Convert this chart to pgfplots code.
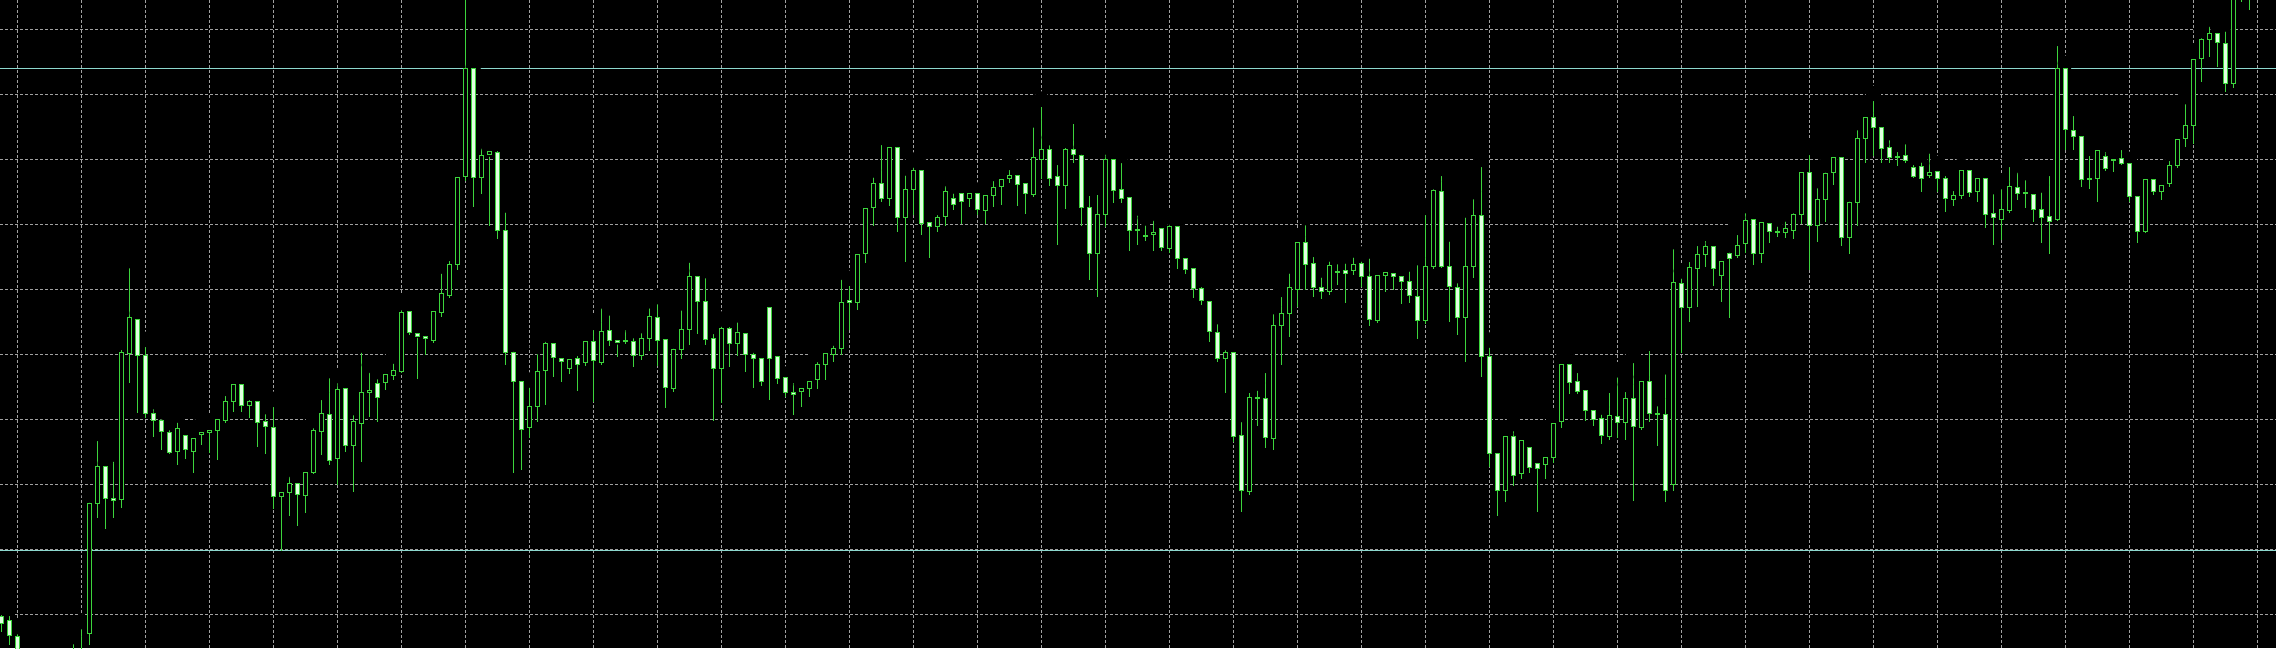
\documentclass[border=0pt]{standalone}
\usepackage{pgfplots}
\usepackage{pgfplotstable}
\pgfplotsset{compat=1.18}
\definecolor{cgreen}{RGB}{60,212,60}
\definecolor{cfill}{RGB}{225,255,225}
\definecolor{gridc}{RGB}{160,160,160}
\definecolor{hline}{RGB}{140,215,205}
\pgfdeclareplotmark{cbody}{%
  \pgfpathrectangle{\pgfpoint{-0.19mm}{-0.05mm*\bh}}{\pgfpoint{0.38mm}{0.1mm*\bh}}%
  \pgfusepathqfillstroke}
% x = bar index, o h l c = open high low close (price scale: chart units, top = 0)
\pgfplotstableread{
x o h l c
0 616.7 607.3 632 623.3
1 620.7 608.3 645 635
2 636 626.7 670 660
9 655 636.7 690 670
10 665 621.7 680 632.3
11 633.3 495 645 503.3
12 503.3 433.3 518.3 466.7
13 466.7 463.3 529 498.3
14 498.3 454 518.3 500.7
15 499.3 342.3 508.3 352.7
16 353.3 260.7 382.7 317.3
17 319.3 313.3 413.3 355.3
18 355.3 339.3 418.3 413.3
19 413.3 401.7 437.3 420
20 420.7 411.7 450 431
21 432.3 422.7 454 452
22 451.3 415 465 428.7
23 435.7 432.3 458.7 449.3
24 451 433.3 473.3 438.3
25 434.7 424.3 445 432
26 432.7 422.7 452.7 430
27 430.7 415.3 460 419
28 420.7 388.3 423.3 401
29 401.3 378.3 411.7 384
30 384.3 376.7 411.7 405
31 405.7 392.3 418.3 401.3
32 401.3 398.3 446.7 422.7
33 421.3 406.7 454 426.7
34 427.3 399.3 509.3 496.7
35 496.7 485 550.7 492.7
36 492.7 469 516 483.3
37 483.3 476.7 526 494.3
38 495 469.3 513.3 472
39 472.7 420.7 474 430
40 431.3 392.3 455 413.3
41 414 370.7 465 460
42 458.7 375.7 485 389.3
43 388.3 385.3 451.7 445.7
44 445.7 407.7 491.7 421
45 423.3 345 461.7 392.3
46 392.7 365 416.7 390
47 383.3 371.7 421.7 397.3
48 382.7 370 390 374
49 375.3 356 380 370.7
50 371.7 302.7 373.3 312.3
51 311.7 308.3 335 332.3
52 333.3 330 379 336
53 336.3 330 355 338.7
54 340 305 342.7 311.7
55 312.7 266 316.7 293.3
56 295 253.3 297.7 264.3
57 264 170 270 177.3
58 176.7 -5 180.7 68.3
59 68.3 66.7 206.7 177.3
60 177.3 141 194 155
61 154.3 149 225.7 151.7
62 152.3 143.3 239.3 230.7
63 230 205 365 352.3
64 352.3 344 473 381
65 381 374 469.8 429.8
66 427.7 380 438 406.2
67 406.2 346.5 421.5 371
68 370.7 334 405 343
69 343 341 377.3 357.4
70 358.3 353.3 382.2 361.6
71 368.6 353.3 374 359.5
72 358.7 348.3 390.5 364.9
73 362.4 336.8 366 341
74 341 322.3 401.7 360.7
75 362 300.8 364.5 331.4
76 330.6 307.9 345.9 340
77 340 336.8 357.4 342
78 341.7 322.3 344 340
79 341 330.6 367 355.4
80 355.4 325.6 360.3 338
81 338 300.8 351.2 316.1
82 317.4 296.7 365.7 340
83 339.7 335.5 408.3 387.2
84 388.4 341 391.7 349.2
85 349.2 302.9 358.7 329.8
86 329.8 255 345 276
87 276 270.7 333.9 301.7
88 301.7 270.7 345 339.7
89 338 326.4 420.7 368.6
90 368.6 319 402.9 328.5
91 328.5 319.4 367 343
92 343 314.9 356.2 332.6
93 333.9 332.6 371.9 354.5
94 354.5 345 387.6 358.3
95 358.7 355.4 386.4 381.4
96 307 305.8 400 358.7
97 356.2 349.2 384.3 378.1
98 377.3 374 396.7 392.6
99 392.6 375.2 415.3 394.6
100 391.7 384.3 407 388.4
101 388.4 374 396.7 381
102 379.3 354.5 389.3 364.5
103 364.5 347.1 380.2 353.3
104 354.1 338 361.6 348.3
105 348.3 272 355.4 302.5
106 300.4 278.2 330.3 302.9
107 302.4 250.3 310 254.2
108 253.3 201.5 263.3 208.5
109 207.3 170 225.5 183.3
110 183.3 137.4 202 198.3
111 198.3 141 205.7 147.4
112 147.4 142.4 231.6 217.2
113 217.2 168 261.5 189.3
114 189.3 160 215 170.3
115 170.3 165.5 234.5 223.2
116 222.3 218.3 257.8 226.6
117 226.6 207.5 231.6 217.2
118 216.8 178.4 225.5 191.5
119 198.3 186 210 204.4
120 193.4 190 224.2 201.5
121 198.3 187 206.6 193.2
122 193.4 190 215 209.5
123 210.7 189.4 224.2 195
124 195 173.5 206.6 187
125 186.7 172 205 179
126 178.4 162.2 182.8 175
127 175.6 169.2 205.5 184
128 183.2 179 214 193.2
129 194.1 119.9 196.5 157.2
130 159 99.1 179.4 149.5
131 149.5 137.6 186 178.4
132 176.2 157.3 244.8 185.4
133 185.4 140.2 209 149.5
134 149.5 116.2 162.6 154.2
135 155.4 147 225.5 207.3
136 207.3 188.1 280.1 253.3
137 253.3 187.2 296.7 214
138 214 147 226.6 159
139 159 156.4 202.6 190.4
140 189.7 155.4 203.2 198.3
141 197.4 196.5 250.8 230.5
142 230.5 208 245 229.5
143 236.5 218 241 235.5
144 234.5 213 250.5 232.3
145 228.2 220.1 250.6 247.2
146 248.5 217 253 226.8
147 226.4 225.1 268.5 258.3
148 258.3 252.4 273.5 269.4
149 268 263.8 297.9 288.4
150 288.4 279.3 305 300.8
151 301.2 293.3 342.3 331.2
152 332 316.7 361.7 358.3
153 358.3 342.7 393 352.4
154 352.6 345.5 442.1 436
155 435.1 414.5 511.6 490.5
156 491.7 385.2 495 397.4
157 398.5 383 425.6 397.4
158 398.6 365.3 448.3 437.2
159 438 306.6 450.4 325.1
160 325 289.3 365 313.3
161 313.3 266 336.7 287.3
162 289.3 236.7 306.7 242.3
163 242.3 217.7 290 264
164 263.3 249.3 297.3 287.3
165 287.3 270 299.3 291.7
166 291.7 254 295 265
167 272.2 256.7 285 271.2
168 270.7 256 302.7 273.3
169 270.7 250 275 264.3
170 263.3 254 286.7 276.7
171 276 251 326 319.3
172 320 272.7 323.3 275
173 275.7 266 292.3 272.3
174 273.3 266 290 276.7
175 276 268.3 304.3 281.7
176 281 264 302.7 295.7
177 296 257.7 339.3 320.7
178 320.7 207.3 324 266
179 266.7 181.7 269.3 190
180 191 168.3 268 266
181 266 234 321.7 286.7
182 287.3 275.7 335 317.3
183 317.3 210 361.7 266
184 266 191.7 278.3 215
185 215 159.3 376.7 356.7
186 356.5 340 467 453.7
187 453.7 450.4 515.7 490.5
188 490.5 429.8 502 436
189 436 423.6 485.5 475.2
190 473.1 433.9 479.3 440.1
191 447.1 442.1 473.1 467
192 463.6 458.7 511.6 468.2
193 464.9 450.4 479.3 457.4
194 457.4 417.4 462.8 423.6
195 421.5 360.3 427.7 364.3
196 364.3 361 394 382.5
197 381.5 365.3 394 391.7
198 390.3 387.6 420.7 410
199 410 407 425.6 419.7
200 418.6 407 444.2 435.1
201 436.8 385.1 440 415.3
202 416.1 369.8 438 422.3
203 422.3 384.3 440.1 398.8
204 398.8 355.4 500.8 426.9
205 427.7 376.9 430 381
206 381 343.2 421.5 413.2
207 414.5 398.6 445.5 413.5
208 414 366.8 502 490.5
209 484.3 241.7 490.5 282.3
210 283.3 271 353.3 307.5
211 307.3 254.3 321.7 267.3
212 268.3 238.3 306.7 254.3
213 254.3 233.3 266.7 246.7
214 246 243.3 286 268.3
215 275 254 301.7 261
216 253.3 245 318.3 258.3
217 255.7 227.3 258 245.7
218 243.3 205.7 252.7 220.7
219 219.3 217.3 265 253.3
220 253.3 218.3 263.3 222.3
221 223.3 219.3 243.3 231.7
222 232.2 219 236.7 231.2
223 232.7 214 238.3 228.3
224 230.7 205.7 239 214
225 214 170 224 172.3
226 172.3 147.3 270 225.7
227 225.7 180.7 241.7 199.3
228 199.3 165 222.3 173.3
229 172.3 153.3 185 157.3
230 157.3 149.3 246 237.3
231 237.3 194 254 202.3
232 202.3 122.7 225.7 138.3
233 138.3 112.7 163.3 117.3
234 117.3 93.3 156 127.3
235 127.3 120.7 163.3 148.3
236 147.3 132.7 162.7 157.3
237 157.2 144.3 166 156.2
238 155 136.7 163.3 160
239 167.3 157.3 178.3 176
240 166 155 191.7 178.3
241 175.7 146 178 172.3
242 171.7 163.3 191.7 178.3
243 178.3 168.3 211.7 198.3
244 199 183.3 206 195.7
245 195 165.7 199 170
246 170 168.3 196.7 192.7
247 191.7 170.7 201.7 178.3
248 178.3 176 227.7 214.3
249 213.3 186.7 245 217.3
250 219 181.7 240 209.3
251 210.7 159.3 213.3 186
252 187.3 165 200 193.3
253 193.8 172.7 208.3 192.8
254 194 191.7 221.7 209.3
255 209.3 185 242.7 217.3
256 216 168.3 254 221
257 219.3 38.3 220.7 68.3
258 68.3 63.3 150 129.3
259 130.7 108.3 150 136
260 136 133.3 187.3 179
261 179.5 148.3 189.3 178.5
262 178.3 144 202.3 150.7
263 156.7 144.3 170.7 168.3
264 160.8 153.3 171.7 159.8
265 158.3 142.3 165 163.3
266 163.3 159.3 201.7 196.7
267 196.7 194 243.3 231
268 231 175 233.3 179.3
269 179.3 176.7 195 191.7
270 191.7 183.3 200 185
271 183.3 153.3 186.7 165
272 165 132.3 168.3 139.3
273 138.3 96.7 146.7 125.7
274 125 51.7 144 59.3
275 58.3 30.7 81.7 39.3
276 39 19 56.7 33.3
277 33.3 26 66.7 42.3
278 43.3 24 91.7 83.3
279 83.3 -20 88.3 -5
280 -5 -40 2 -30
281 -10 -50 10 -40
}\candles
\pgfplotstableread{
x y
-1 68.3
290 68.3
}\lineA
\pgfplotstableread{
x y
-1 550.6
290 550.6
}\lineB
\begin{document}
\begin{tikzpicture}
\begin{axis}[
  name=ax,
  scale only axis,
  width=227.6mm, height=64.8mm,
  xmin=-0.1625, xmax=284.3375,
  ymin=0, ymax=648, y dir=reverse,
  axis background/.style={fill=black},
  axis line style={draw=none},
  major tick length=0pt,
  tick style={draw=none},
  xtick={2,10,...,282},
  ytick={29.3,94.3,159.3,224.3,289.3,354.3,419.3,484.3,549.3,614.3},
  xticklabels={}, yticklabels={},
  grid=major,
  major grid style={draw=gridc, line width=0.1mm, dash pattern=on 0.3mm off 0.2mm},
  clip=true,
]
\addplot[draw=hline, line width=0.12mm, forget plot] table[x=x,y=y] {\lineA};
\addplot[draw=hline, line width=0.12mm, forget plot] table[x=x,y=y] {\lineB};
% wicks
\addplot[only marks, mark=none, forget plot,
  error bars/.cd, y dir=plus, y explicit, error mark=none,
  error bar style={draw=cgreen, line width=0.11mm, solid}]
  table[x=x, y=h, y error expr=\thisrow{l}-\thisrow{h}] {\candles};
% bull bodies (hollow)
\addplot[only marks, mark=cbody, forget plot,
  mark options={draw=cgreen, fill=black, line width=0.1mm, solid},
  visualization depends on={abs(\thisrow{o}-\thisrow{c}) \as \bh},
  restrict expr to domain={\thisrow{o}-\thisrow{c}}{0:2000}]
  table[x=x, y expr=(\thisrow{o}+\thisrow{c})/2] {\candles};
% bear bodies (filled)
\addplot[only marks, mark=cbody, forget plot,
  mark options={draw=cgreen, fill=cfill, line width=0.1mm, solid},
  visualization depends on={abs(\thisrow{o}-\thisrow{c}) \as \bh},
  restrict expr to domain={\thisrow{c}-\thisrow{o}}{0.001:2000}]
  table[x=x, y expr=(\thisrow{o}+\thisrow{c})/2] {\candles};
\end{axis}
\pgfresetboundingbox
\path[use as bounding box] (ax.south west) rectangle (ax.north east);
\end{tikzpicture}
\end{document}
